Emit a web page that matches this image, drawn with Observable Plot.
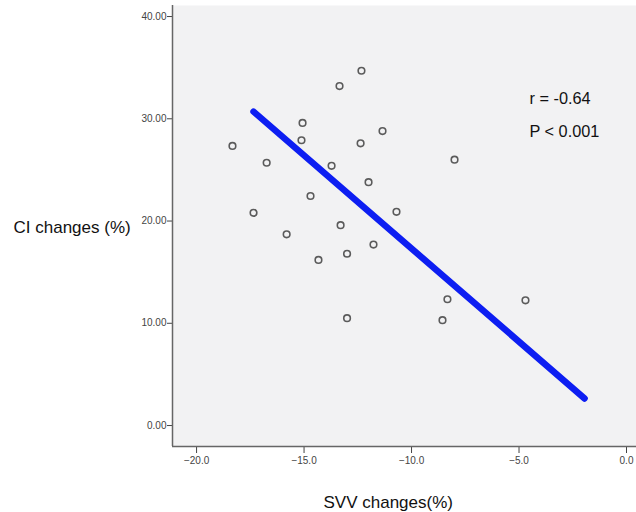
<!DOCTYPE html>
<html>
<head>
<meta charset="utf-8">
<script src="https://cdn.jsdelivr.net/npm/d3@7"></script>
<script src="https://cdn.jsdelivr.net/npm/@observablehq/plot@0.6"></script>
<style>
  html, body { margin: 0; padding: 0; background: #fff; }
  svg { display: block; }
</style>
</head>
<body>
<div id="chart"></div>
<script>
// SVV change (%) and CI change (%) for each patient
const svvChange = [-18.33, -17.35, -16.74, -15.81, -15.07, -15.12, -14.70, -14.33, -13.72, -13.35, -13.30, -13.00, -13.00, -12.33, -12.37, -12.00, -11.77, -11.35, -10.70, -8.56, -8.33, -8.00, -4.70];
const ciChange  = [27.35, 20.80, 25.70, 18.70, 29.60, 27.90, 22.45, 16.20, 25.40, 33.20, 19.60, 16.80, 10.50, 34.70, 27.60, 23.80, 17.70, 28.80, 20.90, 10.30, 12.35, 26.00, 12.25];
// fitted regression line end points
const fitX = [-17.35, -1.95];
const fitY = [30.7, 2.65];
const xTicks = [-20, -15, -10, -5, 0];
const yTicks = [0, 10, 20, 30, 40];
const statLines = ["r = -0.64", "P < 0.001"];
const xTitle = "SVV changes(%)";
const yTitle = "CI changes (%)";

const points = svvChange.map((x, i) => ({x, y: ciChange[i]}));
const fit = fitX.map((x, i) => ({x, y: fitY[i]}));
const xDomain = [-21.12, 0.465];
const yDomain = [-2.05, 41.08];
const font = "Liberation Sans, Arial, sans-serif";

const chart = Plot.plot({
  width: 636,
  height: 512,
  marginLeft: 172,
  marginRight: 0,
  marginTop: 5,
  marginBottom: 66,
  style: {fontFamily: font, background: "#fff"},
  x: {domain: xDomain},
  y: {domain: yDomain},
  marks: [
    Plot.frame({fill: "#f2f2f3", stroke: "none"}),
    Plot.axisY({ticks: yTicks, tickFormat: d3.format(".2f"), tickSize: 5, tickPadding: 1, fontSize: 10, color: "#444", label: null}),
    Plot.axisX({ticks: xTicks, tickFormat: d3.format(".1f"), tickSize: 7, tickPadding: 3, fontSize: 10, color: "#444", label: null}),
    Plot.ruleX([xDomain[0]], {stroke: "#666", strokeWidth: 1.5}),
    Plot.ruleY([yDomain[0]], {stroke: "#666", strokeWidth: 1.5}),
    Plot.line(fit, {x: "x", y: "y", stroke: "#0d1ef2", strokeWidth: 6.5, strokeLinecap: "round"}),
    Plot.dot(points, {x: "x", y: "y", r: 3.3, stroke: "#5b5b5b", strokeWidth: 1.6, fill: "none"}),
    Plot.text([statLines[0]], {frameAnchor: "top-left", dx: 357, dy: 98, textAnchor: "start", lineAnchor: "bottom", fontSize: 16.3, fill: "#111"}),
    Plot.text([statLines[1]], {frameAnchor: "top-left", dx: 357, dy: 131, textAnchor: "start", lineAnchor: "bottom", fontSize: 16.3, fill: "#111"}),
    Plot.text([yTitle], {frameAnchor: "top-left", dx: -159, dy: 227, textAnchor: "start", lineAnchor: "bottom", fontSize: 17, fill: "#111"}),
    Plot.text([xTitle], {frameAnchor: "bottom-left", dx: 151, dy: 61, textAnchor: "start", lineAnchor: "bottom", fontSize: 17, fill: "#111"})
  ]
});
document.getElementById("chart").appendChild(chart);
</script>
</body>
</html>
